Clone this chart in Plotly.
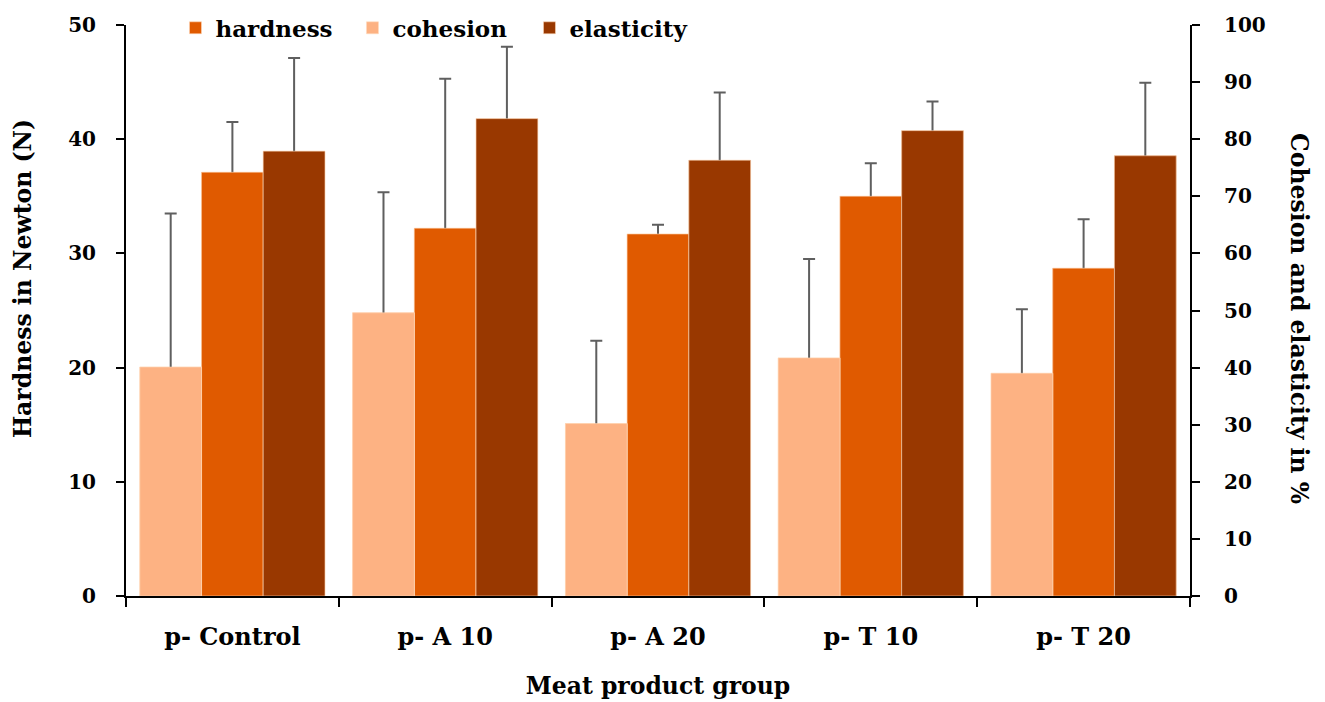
import plotly.graph_objects as go

groups = ["p- Control", "p- A 10", "p- A 20", "p- T 10", "p- T 20"]
hardness = [37.1, 32.2, 31.7, 35.0, 28.7]
hardness_err = [4.4, 13.1, 0.8, 2.9, 4.3]
cohesion = [40.1, 49.6, 30.2, 41.7, 39.0]
cohesion_err = [26.9, 21.1, 14.5, 17.3, 11.2]
elasticity = [77.9, 83.6, 76.3, 81.5, 77.1]
elasticity_err = [16.3, 12.6, 11.9, 5.1, 12.8]

FONT = "DejaVu Serif"
ERRC = "#5f5f5f"
C_HARD, C_COH, C_ELA = "#E05A00", "#FDB283", "#993800"
W = 0.29
OFF = {"cohesion": -0.435, "hardness": -0.145, "elasticity": 0.145}
AX = {"hardness": "y", "cohesion": "y2", "elasticity": "y2"}


def err(vals):
    return dict(type="data", array=vals, symmetric=True,
                color=ERRC, thickness=2, width=6)


series = [("hardness", hardness, hardness_err, C_HARD),
          ("cohesion", cohesion, cohesion_err, C_COH),
          ("elasticity", elasticity, elasticity_err, C_ELA)]

fig = go.Figure()
for name, vals, errs, col in series:
    fig.add_trace(go.Bar(name=name, x=groups, y=vals, error_y=err(errs),
                         marker=dict(color=col, line=dict(color="rgba(255,220,190,0.55)", width=1)),
                         width=W, offset=OFF[name], yaxis=AX[name]))
# same bars drawn again on top, so only the upper half of each error bar shows
for name, vals, errs, col in series:
    fig.add_trace(go.Bar(name=name, x=groups, y=vals, showlegend=False, hoverinfo="skip",
                         marker=dict(color=col, line=dict(color="rgba(255,220,190,0.55)", width=1)),
                         width=W, offset=OFF[name], yaxis=AX[name]))

tick = dict(family=FONT, size=20, color="black", weight="bold")
cat = dict(family=FONT, size=24, color="black", weight="bold")
ttl = dict(family=FONT, size=23.5, color="black", weight="bold")

fig.add_annotation(text="Hardness in Newton (N)", xref="paper", yref="paper",
                   x=-0.0968, y=0.555, xanchor="center", yanchor="middle",
                   textangle=-90, showarrow=False, font=ttl)
fig.add_annotation(text="Cohesion and elasticity in %", xref="paper", yref="paper",
                   x=1.1024, y=0.485, xanchor="center", yanchor="middle",
                   textangle=90, showarrow=False, font=ttl)

fig.update_layout(
    width=1325, height=702,
    margin=dict(l=126, r=135, t=25, b=106, autoexpand=False),
    paper_bgcolor="white", plot_bgcolor="white",
    font=dict(family=FONT, size=22, color="black"),
    barmode="overlay",
    showlegend=True,
    legend=dict(orientation="h", x=0.0465, y=0.995, xanchor="left", yanchor="middle",
                font=dict(family=FONT, size=23, color="black", weight="bold"),
                bgcolor="rgba(0,0,0,0)", entrywidth=132, traceorder="normal"),
    xaxis=dict(type="category", range=[-0.5, 4.5], tickson="boundaries", ticks="outside",
               ticklen=9, tickwidth=2, tickcolor="black", showline=True, linecolor="black",
               linewidth=2, showgrid=False, ticklabelstandoff=18,
               tickfont=cat,
               title=dict(text="Meat product group", standoff=28, font=ttl)),
    yaxis=dict(range=[0, 50], dtick=10, ticks="outside", ticklen=8, tickwidth=2,
               tickcolor="black", showline=True, linecolor="black", linewidth=2,
               showgrid=False, zeroline=False, ticklabelstandoff=16,
               tickfont=tick),
    yaxis2=dict(range=[0, 100], dtick=10, overlaying="y", side="right", ticks="outside",
                ticklen=8, tickwidth=2, tickcolor="black", showline=True, linecolor="black",
                linewidth=2, showgrid=False, zeroline=False, ticklabelstandoff=20,
                tickfont=tick),
)

fig.write_html("out.html", config={"displayModeBar": False},
               post_script="document.body.style.margin='0';")
